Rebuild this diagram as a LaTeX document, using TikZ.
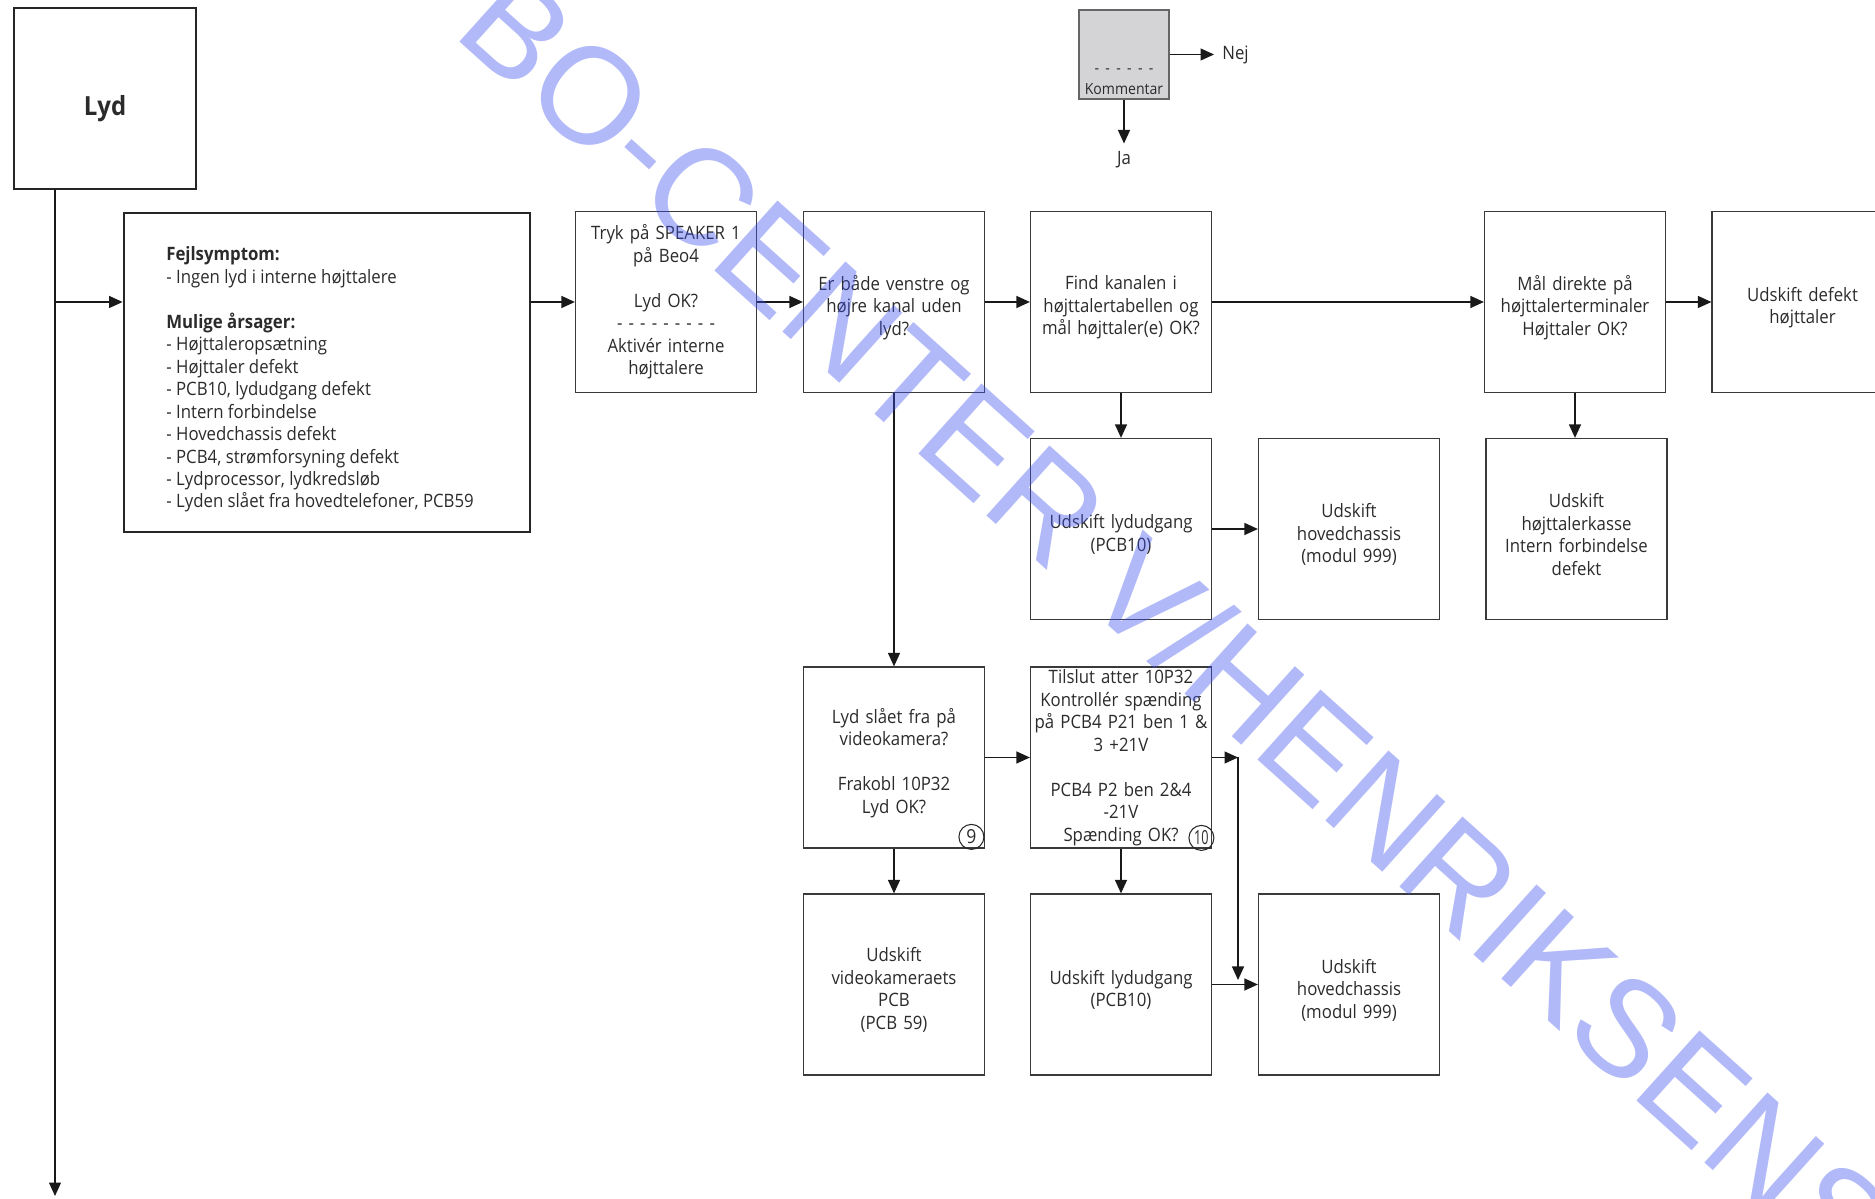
\documentclass[tikz,border=0pt]{standalone}
\usepackage{fontspec}
\setmainfont[FakeStretch=0.91]{Open Sans}
\newfontfamily\stempelfont{Liberation Sans}
\usetikzlibrary{arrows.meta,positioning}
\definecolor{linegray}{HTML}{3A3A3A}
\definecolor{textgray}{HTML}{2B2B2B}
\definecolor{kommgray}{HTML}{D4D4D6}
\definecolor{stempel}{RGB}{60,80,240}

\begin{document}
\begin{tikzpicture}[font=\fontsize{10.5}{12.8}\selectfont, text=textgray]

		\tikzstyle{box}=[draw=linegray, line width=0.7pt, minimum width=3.62cm, minimum height=3.62cm, text width=3.56cm, align=center, inner sep=0pt]
		\tikzstyle{low}=[execute at end node={\endgraf\vspace*{-0.22cm}}]
		\tikzstyle{frame}=[draw=black!85, line width=1.6pt, inner sep=0pt]
		\tikzstyle{flow}=[draw=black!90, line width=0.75pt, -{Triangle[length=0.27cm,width=0.24cm]}]
		\tikzstyle{circnum}=[draw=black!85, circle, line width=0.6pt, minimum size=0.5cm, inner sep=0pt, font=\fontsize{11}{11}\selectfont]
		\tikzstyle{label}=[inner sep=0pt]

		\useasboundingbox (0,0) rectangle (37.5,23.96);
		\clip (0,0) rectangle (37.5,23.96);

		%start and symptoms
		\node [frame, minimum width=3.64cm, minimum height=3.62cm, text height=0.78cm, text depth=0.1cm, font=\fontsize{15}{17}\selectfont\bfseries] (lyd) at (2.10,21.99) {Lyd};
		\node [frame, minimum width=8.12cm, minimum height=6.38cm] (symptom) at (6.54,16.51) {};
		\node [label, anchor=west, align=left] (symptomtekst) at (3.32,16.37) {\textbf{Fejlsymptom:}\\
			- Ingen lyd i interne højttalere\\[12.8pt]
			\textbf{Mulige årsager:}\\
			- Højttaleropsætning\\
			- Højttaler defekt\\
			- PCB10, lydudgang defekt\\
			- Intern forbindelse\\
			- Hovedchassis defekt\\
			- PCB4, strømforsyning defekt\\
			- Lydprocessor, lydkredsløb\\
			- Lyden slået fra hovedtelefoner, PCB59};

		%top row
		\node [box] (tryk) at (13.32,17.92) {Tryk på SPEAKER 1\\ på Beo4\\[12.8pt] Lyd OK?\\ - - - - - - - - -\\ Aktivér interne\\ højttalere};
		\node [box, low] (begge) at (17.88,17.92) {Er både venstre og\\ højre kanal uden\\ lyd?};
		\node [box, low] (find) at (22.42,17.92) {Find kanalen i\\ højttalertabellen og\\ mål højttaler(e) OK?};
		\node [box, low] (maal) at (31.50,17.92) {Mål direkte på\\ højttalerterminaler\\ Højttaler OK?};
		\node [box, low] (hoejttaler) at (36.05,17.92) {Udskift defekt\\ højttaler};

		%second row
		\node [box, low] (lydudgang) at (22.42,13.38) {Udskift lydudgang\\ (PCB10)};
		\node [box, low] (chassis) at (26.98,13.38) {Udskift\\ hovedchassis\\ (modul 999)};
		\node [box, low] (kasse) at (31.53,13.38) {Udskift\\ højttalerkasse\\ Intern forbindelse\\ defekt};

		%third row
		\node [box, low] (kamera) at (17.88,8.81) {Lyd slået fra på\\ videokamera?\\[12.8pt] Frakobl 10P32\\ Lyd OK?};
		\node [box] (spaending) at (22.42,8.81) {Tilslut atter 10P32\\ Kontrollér spænding\\ på PCB4 P21 ben 1 \&\\ 3 +21V\\[12.8pt] PCB4 P2 ben 2\&4\\ -21V\\ Spænding OK?};

		%bottom row
		\node [box, low] (kamerapcb) at (17.88,4.27) {Udskift\\ videokameraets\\ PCB\\ (PCB 59)};
		\node [box, low] (lydudgang2) at (22.42,4.27) {Udskift lydudgang\\ (PCB10)};
		\node [box, low] (chassis2) at (26.98,4.27) {Udskift\\ hovedchassis\\ (modul 999)};

		%step numbers
		\node [circnum, above left=0.05cm and 0.09cm of kamera.south east] (trin9) {9};
		\node [circnum, above left=0.03cm and 0.03cm of spaending.south east] (trin10) {\scalebox{0.72}[1]{10}};

		%legend
		\node [box, fill=kommgray, draw=black!60, minimum width=1.80cm, minimum height=1.78cm, text width=1.7cm] (kommentar) at (22.48,22.87) {};
		\node [anchor=south, inner sep=0.1cm, align=center, font=\fontsize{8.8}{10}\selectfont] (kommtekst) at (kommentar.south) {-\hspace{3.6pt}-\hspace{3.6pt}-\hspace{3.6pt}-\hspace{3.6pt}-\hspace{3.6pt}-\\[1.5pt] Kommentar};
		\coordinate (nej) at (24.28,22.87);
		\coordinate (ja) at (22.48,21.09);
		\draw [flow] (kommentar.east) -- (nej);
		\draw [flow] (kommentar.south) -- (ja);
		\node [label, right=0.16cm of nej] (nejtekst) {Nej};
		\node [label, below=0.15cm of ja] (jatekst) {Ja};

		%connections
		\coordinate (lydfod) at (1.10,20.18);
		\coordinate (bund) at (1.10,0.04);
		\draw [flow] (lydfod) -- (bund);
		\draw [flow] (lydfod |- tryk.west) -- (symptom.west |- tryk.west);
		\draw [flow] (symptom.east |- tryk.west) -- (tryk.west);
		\draw [flow] (tryk.east) -- (begge.west);
		\draw [flow] (begge.east) -- (find.west);
		\draw [flow] (find.east) -- (maal.west);
		\draw [flow] (maal.east) -- (hoejttaler.west);
		\draw [flow] (find.south) -- (lydudgang.north);
		\draw [flow] (maal.south) -- (maal.south |- kasse.north);
		\draw [flow] (lydudgang.east) -- (chassis.west);
		\draw [flow] (begge.south) -- (kamera.north);
		\draw [flow] (kamera.east) -- (spaending.west);
		\draw [flow] (kamera.south) -- (kamerapcb.north);
		\draw [flow] (spaending.south) -- (lydudgang2.north);
		\draw [flow] (lydudgang2.east) -- (chassis2.west);

		%voltage branch
		\coordinate (knaek) at (24.76,8.81);
		\coordinate (knaekfod) at (24.76,4.36);
		\draw [flow] (spaending.east) -- (knaek);
		\draw [flow] (knaek) -- (knaekfod);

		%watermark
		\node [rotate=-42, text=stempel, text opacity=0.4, font=\fontsize{78}{78}\selectfont\stempelfont] (stempeltekst) at (23.56,11.52) {BO-CENTER V/HENRIKSENS};

\end{tikzpicture}
\end{document}
